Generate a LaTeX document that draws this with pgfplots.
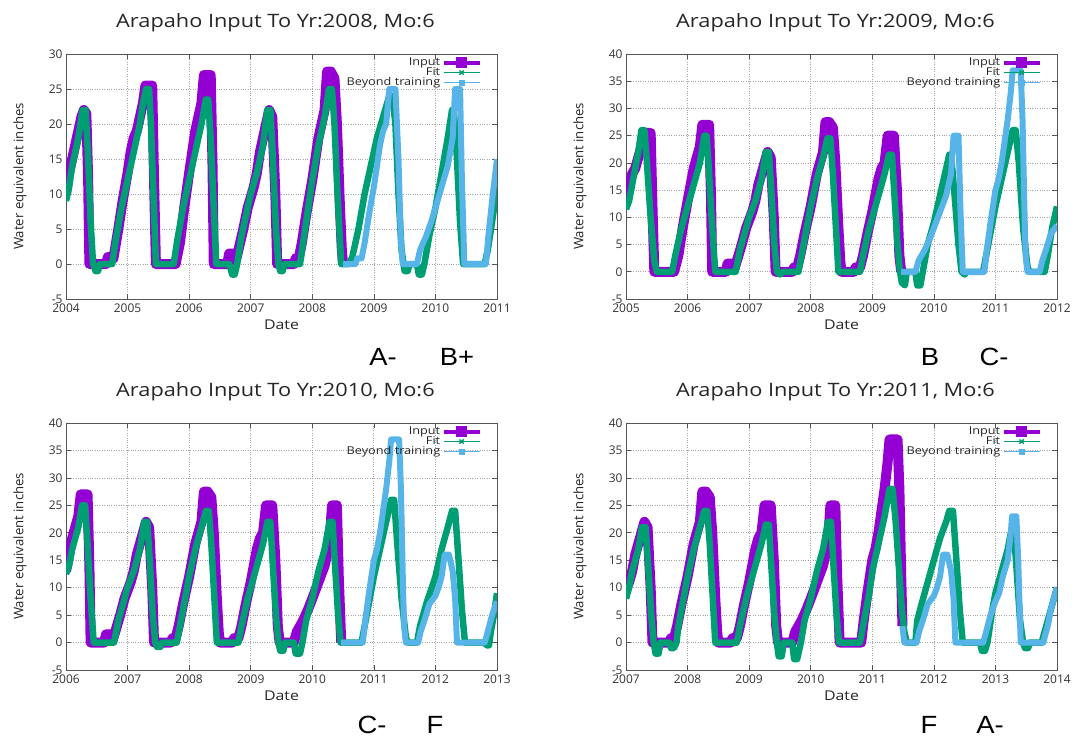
\documentclass[border=0pt]{standalone}
\usepackage{fontspec}
\setmainfont{Open Sans}
\newfontfamily\wide[FakeStretch=1.18]{Open Sans}
\newfontfamily\gradefont[FakeStretch=1.1]{Liberation Sans}
\usepackage{pgfplots}
\usepackage{pgfplotstable}
\pgfplotsset{compat=1.18}
\definecolor{inp}{HTML}{9400D3}
\definecolor{fitc}{HTML}{009E73}
\definecolor{bey}{HTML}{56B4E9}
\definecolor{frame}{HTML}{555555}

% measured snow water equivalent (purple before the training cut, blue after)
\pgfplotstableread{
x y
2004.00 10
2004.05 13
2004.10 15
2004.15 17
2004.20 19
2004.25 21
2004.29 22
2004.33 21.5
2004.36 12
2004.38 0
2004.65 0
2004.68 1
2004.74 1
2004.77 0.8
2004.85 5
2004.92 9
2005.00 13
2005.05 16
2005.10 18
2005.15 19
2005.20 21
2005.25 23
2005.29 25.5
2005.40 25.5
2005.43 12
2005.46 0
2005.78 0
2005.85 3
2005.92 8
2006.00 13
2006.05 16
2006.10 19
2006.15 21
2006.20 23
2006.24 27
2006.35 27
2006.38 14
2006.40 0
2006.62 0
2006.65 1.5
2006.72 1.5
2006.76 0.5
2006.80 2
2006.88 5
2006.95 8
2007.00 9.5
2007.05 11
2007.10 13
2007.15 16
2007.20 18
2007.25 20
2007.30 22
2007.35 21
2007.40 10
2007.43 0
2007.70 0
2007.73 0.8
2007.78 0.8
2007.83 3
2007.90 7
2008.00 12
2008.05 15
2008.10 18
2008.15 20
2008.20 22
2008.24 27.5
2008.30 27.5
2008.36 26.5
2008.40 20
2008.45 8
2008.48 2
2008.50 0
2008.70 0
2008.73 0.8
2008.80 0.8
2008.85 3
2008.92 7
2009.00 11
2009.05 14
2009.10 17
2009.15 19
2009.20 20
2009.25 25
2009.35 25
2009.40 15
2009.44 3
2009.47 0
2009.70 0
2009.75 2
2009.85 4
2009.93 6
2010.00 8
2010.10 11
2010.20 14
2010.28 18
2010.32 25
2010.40 25
2010.43 12
2010.47 0
2010.82 0
2010.86 4
2010.92 9
2011.00 15
2011.05 17
2011.10 20
2011.15 24
2011.20 28
2011.25 33
2011.28 37
2011.41 37
2011.44 28
2011.47 12
2011.49 3
2011.52 0
2011.72 0
2011.76 2
2011.82 4
2011.90 7
2012.00 8.5
2012.05 10
2012.10 12
2012.15 16
2012.22 16
2012.28 13
2012.32 8
2012.35 0
2012.80 0
2012.85 2
2012.92 5
2013.00 7.5
2013.06 9
2013.12 12
2013.20 15
2013.25 20
2013.27 23
2013.34 23
2013.37 15
2013.41 0
2013.78 0
2013.80 1
2013.85 3
2013.90 6
2013.95 8
2014.00 10
}\actual

\pgfplotstableread{
x y
2004.00 9
2004.05 11
2004.10 14
2004.20 18
2004.27 22
2004.32 22
2004.36 15
2004.40 6
2004.44 0
2004.48 -1
2004.52 -1
2004.55 0
2004.75 0
2004.80 3
2004.90 8
2005.00 12
2005.10 16
2005.20 20
2005.25 23
2005.30 25
2005.35 25
2005.38 20
2005.42 10
2005.46 0
2005.75 0
2005.80 3
2005.90 8
2006.00 12
2006.10 16
2006.20 20
2006.27 23.5
2006.31 23.5
2006.35 18
2006.40 8
2006.44 0
2006.65 0
2006.70 -1.5
2006.74 -1.5
2006.78 0
2006.85 4
2006.95 8
2007.00 10
2007.10 13
2007.20 17
2007.27 22
2007.32 22
2007.36 15
2007.41 5
2007.45 0
2007.48 -1
2007.52 -1
2007.55 0
2007.80 0
2007.85 3
2007.95 9
2008.00 12
2008.10 17
2008.20 21
2008.27 25
2008.32 25
2008.36 20
2008.41 10
2008.47 0
2008.60 0
2008.65 1
2008.75 5
2008.85 10
2008.95 14
2009.05 18
2009.15 21
2009.25 24
2009.30 24
2009.35 20
2009.40 10
2009.45 2
2009.50 -1
2009.55 -1
2009.58 0
2009.70 0
2009.73 -1.5
2009.78 -1.5
2009.82 0
2009.90 4
2010.00 8
2010.10 13
2010.20 18
2010.27 22
2010.30 22
2010.35 15
2010.40 6
2010.45 0
2010.80 0
2010.85 2
2010.92 6
2011.00 11
}\fitA

\pgfplotstableread{
x y
2005.00 11.5
2005.05 13
2005.10 16
2005.15 19
2005.20 22
2005.25 26
2005.30 26
2005.34 20
2005.40 10
2005.46 2
2005.50 0
2005.75 0
2005.80 3
2005.90 8
2006.00 12
2006.10 16
2006.20 20
2006.27 25
2006.31 25
2006.35 18
2006.40 8
2006.45 0
2006.78 0
2006.85 4
2006.95 8
2007.00 10
2007.10 13
2007.20 17
2007.27 22
2007.32 22
2007.36 15
2007.41 5
2007.45 0
2007.50 -0.5
2007.55 0
2007.80 0
2007.85 3
2007.95 9
2008.00 12
2008.10 17
2008.20 21
2008.27 24.5
2008.32 24.5
2008.36 18
2008.41 8
2008.45 0
2008.80 0
2008.85 3
2008.95 8
2009.00 10
2009.10 14
2009.20 18
2009.27 21.5
2009.32 21.5
2009.36 14
2009.41 5
2009.45 0
2009.48 -2
2009.53 -2.5
2009.56 0
2009.70 0
2009.73 -2.5
2009.78 -2.5
2009.82 0
2009.90 5
2010.00 9
2010.10 14
2010.20 19
2010.25 21.5
2010.28 21.5
2010.33 15
2010.40 5
2010.45 0
2010.50 -0.5
2010.53 0
2010.80 0
2010.85 3
2010.95 9
2011.00 12
2011.10 17
2011.20 22
2011.28 26
2011.33 26
2011.38 20
2011.45 8
2011.52 1
2011.55 0
2011.80 0
2011.85 3
2011.92 8
2012.00 12
}\fitB

\pgfplotstableread{
x y
2006.00 12.5
2006.05 14
2006.10 17
2006.20 21
2006.26 25
2006.31 25
2006.35 18
2006.40 8
2006.45 0
2006.78 0
2006.85 4
2006.95 8
2007.00 10
2007.10 13
2007.20 17
2007.27 22
2007.32 22
2007.36 15
2007.41 5
2007.45 0
2007.48 -0.8
2007.53 -0.8
2007.56 0
2007.80 0
2007.85 3
2007.95 9
2008.00 12
2008.10 17
2008.20 21
2008.27 24
2008.32 24
2008.36 18
2008.41 8
2008.45 0
2008.80 0
2008.85 3
2008.95 8
2009.00 10
2009.10 14
2009.20 18
2009.27 22
2009.32 22
2009.36 14
2009.41 5
2009.45 0
2009.48 -1.5
2009.53 -1.5
2009.56 0
2009.70 0
2009.73 -2
2009.80 -2
2009.84 0
2009.90 4
2010.00 8
2010.10 13
2010.20 17
2010.28 22
2010.33 22
2010.37 14
2010.42 5
2010.46 0
2010.80 0
2010.85 3
2010.95 9
2011.00 12
2011.10 17
2011.20 22
2011.28 26
2011.33 26
2011.38 18
2011.45 8
2011.52 1
2011.55 0
2011.70 0
2011.75 3
2011.85 7
2012.00 12
2012.10 17
2012.20 21
2012.27 24
2012.32 24
2012.37 16
2012.43 6
2012.48 0
2012.80 0
2012.83 -0.5
2012.87 -0.5
2012.90 2
2012.95 5
2013.00 9
}\fitC

\pgfplotstableread{
x y
2007.00 8
2007.05 10
2007.10 13
2007.20 17
2007.26 21
2007.32 21
2007.36 14
2007.41 5
2007.45 0
2007.48 -2
2007.53 -2
2007.56 0
2007.70 0
2007.73 -1
2007.78 -1
2007.82 0
2007.85 3
2007.95 9
2008.00 12
2008.10 17
2008.20 21
2008.27 24
2008.32 24
2008.36 18
2008.41 8
2008.45 0
2008.80 0
2008.85 3
2008.95 8
2009.00 10
2009.10 14
2009.20 18
2009.27 21.5
2009.32 21.5
2009.36 14
2009.41 5
2009.45 0
2009.48 -2.5
2009.53 -2.5
2009.56 0
2009.70 0
2009.73 -3
2009.78 -3
2009.84 0
2009.90 4
2010.00 8
2010.10 13
2010.20 17
2010.28 22
2010.33 22
2010.37 14
2010.42 5
2010.46 0
2010.80 0
2010.85 3
2010.95 9
2011.00 13
2011.10 18
2011.20 23
2011.28 28
2011.33 28
2011.38 22
2011.43 14
2011.48 6
2011.52 2
2011.56 0
2011.70 0
2011.73 4
2011.80 7
2011.90 11
2012.00 15
2012.10 19
2012.20 22
2012.25 24
2012.31 24
2012.36 16
2012.42 6
2012.47 0
2012.75 0
2012.78 -1.5
2012.83 -1.5
2012.87 0
2012.95 6
2013.00 9
2013.10 13
2013.20 17
2013.25 20
2013.30 20
2013.34 14
2013.40 4
2013.45 0
2013.48 -1
2013.53 -1
2013.56 0
2013.75 0
2013.80 2
2013.90 6
2014.00 10
}\fitD

\pgfplotsset{
  legend image code/.code={\draw[mark repeat=2, mark phase=2, #1]
    plot coordinates {(0bp,0bp) (18bp,0bp) (36bp,0bp)};},
}
\pgfplotsset{
  panel/.style={
    scale only axis, width=431bp, anchor=north west,
    ymin=-5,
    /pgf/number format/assume math mode=true,
    /pgf/number format/1000 sep={},
    tick label style={font=\fontsize{12}{14}\selectfont, text=black!80},
    x tick label style={yshift=-1bp},
    xlabel style={font=\wide\fontsize{13.5}{15}\selectfont, text=black!85,
      at={(axis description cs:0.5,-0.106)}, anchor=center},
    ylabel style={font=\fontsize{13.2}{15}\selectfont, text=black!85,
      at={(axis description cs:-0.107,0.5)}, anchor=center},
    every axis title shift=0pt,
    title style={font=\wide\fontsize{18.5}{20}\selectfont, text=black!85,
      at={(axis description cs:0.486,1.128)}, anchor=center},
    axis line style={frame, line width=0.8bp},
    tick style={frame, line width=0.6bp},
    tick align=inside, major tick length=5bp,
    grid=major, grid style={gray!70, dotted, line width=0.7bp},
    xlabel={Date}, ylabel={Water equivalent inches},
    legend plot pos=right, legend cell align=right,
    legend style={draw=none, fill=none, at={(rel axis cs:0.965,0.99)},
      anchor=north east, font=\wide\fontsize{10.8}{11}\selectfont,
      row sep=-2.5bp, inner sep=0pt,
      nodes={inner sep=1.5bp, text=black!85},
      /tikz/every even column/.append style={column sep=8bp}},
  },
  inpL/.style={inp, line width=4bp, mark=square*, mark size=3.5bp},
  fitL/.style={fitc, line width=1.8bp, mark=x, mark size=3bp, mark options={line width=1.5bp}},
  beyL/.style={bey, line width=1.5bp, mark=square*, mark size=2.2bp},
  inpP/.style={inp, line width=10bp, line join=round, forget plot},
  fitP/.style={fitc, line width=6.5bp, line join=round, forget plot},
  beyP/.style={bey, line width=6bp, line join=round, forget plot},
}

\begin{document}
\begin{tikzpicture}
\path[use as bounding box] (0bp,0bp) rectangle (1072bp,-738bp);

\begin{axis}[panel, at={(66bp,-54bp)}, height=245bp, xmin=2004, xmax=2011, ymax=30,
  xtick={2004,2005,...,2011}, ytick={-5,0,...,30},
  title={Arapaho Input To Yr:2008, Mo:6}]
\addlegendimage{inpL}\addlegendentry{Input}
\addlegendimage{fitL}\addlegendentry{Fit}
\addlegendimage{beyL}\addlegendentry{Beyond training}
\addplot[inpP, restrict x to domain=2004:2008.501] table {\actual};
\addplot[fitP] table {\fitA};
\addplot[beyP, restrict x to domain=2008.499:2011] table {\actual};
\end{axis}

\begin{axis}[panel, at={(626bp,-54bp)}, height=245bp, xmin=2005, xmax=2012, ymax=40,
  xtick={2005,2006,...,2012}, ytick={-5,0,...,40},
  title={Arapaho Input To Yr:2009, Mo:6}]
\addlegendimage{inpL}\addlegendentry{Input}
\addlegendimage{fitL}\addlegendentry{Fit}
\addlegendimage{beyL}\addlegendentry{Beyond training}
\addplot[inpP, restrict x to domain=2005:2009.471] table {\actual};
\addplot[fitP] table {\fitB};
\addplot[beyP, restrict x to domain=2009.469:2012] table {\actual};
\end{axis}

\begin{axis}[panel, at={(66bp,-423bp)}, height=247bp, xmin=2006, xmax=2013, ymax=40,
  xtick={2006,2007,...,2013}, ytick={-5,0,...,40},
  title={Arapaho Input To Yr:2010, Mo:6}]
\addlegendimage{inpL}\addlegendentry{Input}
\addlegendimage{fitL}\addlegendentry{Fit}
\addlegendimage{beyL}\addlegendentry{Beyond training}
\addplot[inpP, restrict x to domain=2006:2010.471] table {\actual};
\addplot[fitP] table {\fitC};
\addplot[beyP, restrict x to domain=2010.469:2013] table {\actual};
\end{axis}

\begin{axis}[panel, at={(626bp,-423bp)}, height=247bp, xmin=2007, xmax=2014, ymax=40,
  xtick={2007,2008,...,2014}, ytick={-5,0,...,40},
  title={Arapaho Input To Yr:2011, Mo:6}]
\addlegendimage{inpL}\addlegendentry{Input}
\addlegendimage{fitL}\addlegendentry{Fit}
\addlegendimage{beyL}\addlegendentry{Beyond training}
\addplot[inpP, restrict x to domain=2007:2011.491] table {\actual};
\addplot[fitP] table {\fitD};
\addplot[beyP, restrict x to domain=2011.489:2014] table {\actual};
\end{axis}

\begin{scope}[every node/.style={font=\gradefont\fontsize{25}{27}\selectfont, anchor=center}]
\node at (383bp,-357bp) {A-};
\node at (457bp,-357bp) {B+};
\node at (930bp,-357bp) {B};
\node at (994bp,-357bp) {C-};
\node at (372bp,-725bp) {C-};
\node at (435bp,-725bp) {F};
\node at (929bp,-725bp) {F};
\node at (990bp,-725bp) {A-};
\end{scope}
\end{tikzpicture}
\end{document}
